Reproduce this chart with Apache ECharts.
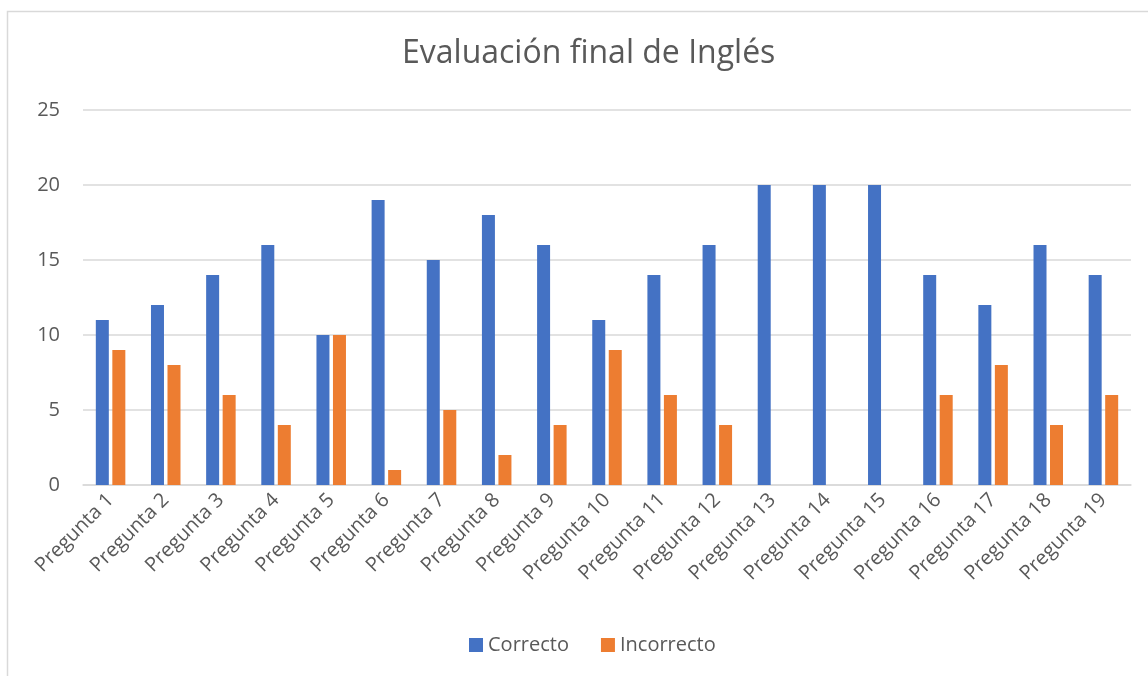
<!DOCTYPE html>
<html>
<head>
<meta charset="utf-8">
<script src="https://cdn.jsdelivr.net/npm/echarts@6/dist/echarts.min.js"></script>
<style>
  html, body { margin: 0; padding: 0; background: #fff; }
  #chart { width: 1148px; height: 676px; }
</style>
</head>
<body>
<div id="chart"></div>
<script>
// datos
var preguntas = ['Pregunta 1', 'Pregunta 2', 'Pregunta 3', 'Pregunta 4', 'Pregunta 5',
    'Pregunta 6', 'Pregunta 7', 'Pregunta 8', 'Pregunta 9', 'Pregunta 10',
    'Pregunta 11', 'Pregunta 12', 'Pregunta 13', 'Pregunta 14', 'Pregunta 15',
    'Pregunta 16', 'Pregunta 17', 'Pregunta 18', 'Pregunta 19'];
var correcto = [11, 12, 14, 16, 10, 19, 15, 18, 16, 11, 14, 16, 20, 20, 20, 14, 12, 16, 14];
var incorrecto = [9, 8, 6, 4, 10, 1, 5, 2, 4, 9, 6, 4, 0, 0, 0, 6, 8, 4, 6];

var fuente = "'Open Sans', 'Noto Sans', sans-serif";
var gris = '#595959';

var option = {
    animation: false,
    textStyle: { fontFamily: fuente },
    title: {
        text: 'Evaluación final de Inglés',
        left: 397,
        top: 33,
        textStyle: { fontFamily: fuente, fontSize: 32, fontWeight: 'normal', color: gris }
    },
    graphic: [{
        type: 'rect',   // borde del area del grafico
        shape: { x: 7.5, y: 11.5, width: 1200, height: 700 },
        style: { fill: 'none', stroke: '#d9d9d9', lineWidth: 1.5 },
        silent: true
    }],
    legend: {
        bottom: 16,
        left: 464,
        itemWidth: 14,
        itemHeight: 14,
        itemGap: 32,
        icon: 'rect',
        textStyle: { fontFamily: fuente, fontSize: 20, color: gris },
        data: ['Correcto', 'Incorrecto']
    },
    grid: { left: 83, right: 17, top: 110, bottom: 191 },
    xAxis: {
        type: 'category',
        data: preguntas,
        axisLine: { lineStyle: { color: '#d9d9d9', width: 1.5 } },
        axisTick: { show: false },
        axisLabel: {
            rotate: 45,
            interval: 0,
            margin: 12,
            fontFamily: fuente,
            fontSize: 20,
            color: gris
        }
    },
    yAxis: {
        type: 'value',
        min: 0,
        max: 25,
        interval: 5,
        axisLine: { show: false },
        axisTick: { show: false },
        splitLine: { lineStyle: { color: '#d9d9d9', width: 1.5 } },
        axisLabel: { margin: 23, fontFamily: fuente, fontSize: 20, color: gris }
    },
    series: [{
        name: 'Correcto',
        type: 'bar',
        data: correcto,
        barWidth: 13,
        barGap: '27%',
        itemStyle: { color: '#4472C4' }
    }, {
        name: 'Incorrecto',
        type: 'bar',
        data: incorrecto,
        barWidth: 13,
        itemStyle: { color: '#ED7D31' }
    }]
};

var myChart = echarts.init(document.getElementById('chart'));
myChart.setOption(option);
</script>
</body>
</html>
